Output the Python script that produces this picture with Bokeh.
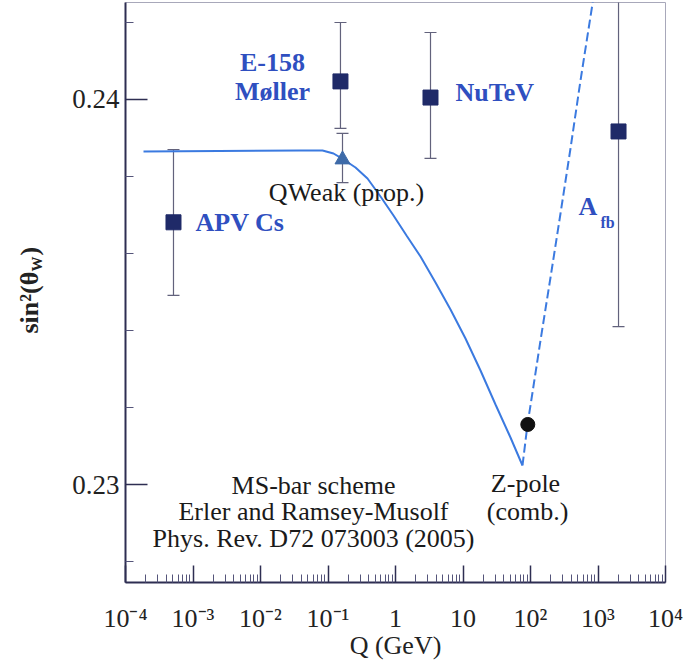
import math
from bokeh.plotting import figure
from bokeh.layouts import row
from bokeh.models import (FixedTicker, ColumnDataSource, Whisker, TeeHead, Range1d)
from bokeh.core.properties import value
from bokeh.embed import file_html
from bokeh.resources import INLINE

# ---------------- data ----------------
# running sin^2(theta_W) in MS-bar scheme (solid, low-Q branch)
curve_q = [1.848e-4, 0.03914, 0.08289, 0.12066, 0.16965, 0.2555, 0.3847, 0.5995,
           0.9341, 1.4555, 2.3462, 3.913, 6.528, 10.889, 18.166, 30.30, 50.53, 76.1]
curve_s = [0.238649, 0.238675, 0.238675, 0.238597, 0.238442, 0.238234, 0.237948,
           0.237481, 0.236987, 0.236468, 0.235922, 0.235247, 0.234545, 0.233792,
           0.232961, 0.232078, 0.231221, 0.230494]
# high-Q branch (dashed)
high_q = [76.1, 90.27, 107.05, 140.6, 197.9, 278.3, 391.3, 550.5, 774.3, 950.2]
high_s = [0.230494, 0.231558, 0.232390, 0.233740, 0.235377, 0.237039, 0.238727,
          0.240494, 0.242156, 0.243143]

# measurements (squares)
meas_name = ["APV Cs", "E-158 Møller", "NuTeV", "A_fb"]
meas_q = [5.14e-4, 0.153, 3.30, 2014.0]
meas_s = [0.23681, 0.24047, 0.24005, 0.23917]
meas_lo = [0.23491, 0.23925, 0.23847, 0.23410]
meas_hi = [0.23870, 0.24200, 0.24174, 0.24424]

# QWeak (proposed)
qweak_q = [0.164]
qweak_s = [0.23844]
qweak_lo = [0.23784]
qweak_hi = [0.23912]

# Z-pole combined
zpole_q = [91.19]
zpole_s = [0.23156]

x_tick_vals = [1e-4, 1e-3, 1e-2, 1e-1, 1.0, 10.0, 100.0, 1000.0, 10000.0]
x_tick_labels = ["10⁻⁴", "10⁻³", "10⁻²", "10⁻¹", "1", "10", "10²", "10³", "10⁴"]
y_tick_vals = [0.23, 0.24]
y_tick_labels = ["0.23", "0.24"]
y_minor_vals = [0.228, 0.232, 0.234, 0.236, 0.238, 0.242]

# ---------------- styling ----------------
SERIF = "Liberation Serif"
BLUE_TXT = "#2f4fc0"
CURVE = "#3b7ae0"
AXIS = "#2e2e52"
ERR = "#62627c"
LEFT_W = 60   # width of the strip that carries the y-axis title

p = figure(width=696 - LEFT_W, height=664, x_axis_type="log",
           x_range=Range1d(1e-4, 1e4), y_range=Range1d(0.227455, 0.242519),
           output_backend="svg", toolbar_location=None,
           min_border_left=125 - LEFT_W, min_border_right=31, min_border_top=2,
           min_border_bottom=82)
p.xgrid.visible = False
p.ygrid.visible = False
p.outline_line_color = "#a8a8ba"
p.outline_line_width = 1
p.background_fill_color = "white"
p.border_fill_color = "white"

xminor = [m * 10.0 ** k for k in range(-4, 4) for m in range(2, 10)]
p.xaxis.ticker = FixedTicker(ticks=x_tick_vals, minor_ticks=xminor)
p.xaxis.major_label_overrides = dict(zip(x_tick_vals, x_tick_labels))
p.yaxis.ticker = FixedTicker(ticks=y_tick_vals, minor_ticks=y_minor_vals)
p.yaxis.major_label_overrides = dict(zip(y_tick_vals, y_tick_labels))

for ax in (p.xaxis[0], p.yaxis[0]):
    ax.axis_line_color = AXIS
    ax.axis_line_width = 2
    ax.major_tick_out = 0
    ax.minor_tick_out = 0
    ax.minor_tick_in = 8
    ax.major_tick_line_color = AXIS
    ax.minor_tick_line_color = "#55557a"
    ax.major_tick_line_width = 1.5
    ax.major_label_text_font = SERIF
    ax.major_label_text_color = "#222222"
p.xaxis.major_label_text_font_size = "26px"
p.yaxis.major_label_text_font_size = "27px"
p.xaxis.major_tick_in = 17
p.yaxis.major_tick_in = 22
p.xaxis.major_label_standoff = 21
p.yaxis.major_label_standoff = 6
p.xaxis.axis_label = "Q (GeV)"
p.xaxis.axis_label_text_font = SERIF
p.xaxis.axis_label_text_font_style = "normal"
p.xaxis.axis_label_text_font_size = "26px"
p.xaxis.axis_label_text_color = "#222222"
p.xaxis.axis_label_standoff = -5

# curve
p.line(curve_q, curve_s, line_color=CURVE, line_width=2)
p.line(high_q, high_s, line_color=CURVE, line_width=2, line_dash="9 4")

# error bars
msrc = ColumnDataSource(dict(q=meas_q, s=meas_s, lo=meas_lo, hi=meas_hi))
qsrc = ColumnDataSource(dict(q=qweak_q, s=qweak_s, lo=qweak_lo, hi=qweak_hi))
for src in (msrc, qsrc):
    w = Whisker(source=src, base="q", lower="lo", upper="hi", dimension="height",
                line_color=ERR, line_width=1.2,
                upper_head=TeeHead(size=12, line_color=ERR, line_width=1.2),
                lower_head=TeeHead(size=12, line_color=ERR, line_width=1.2))
    p.add_layout(w)

p.scatter("q", "s", source=msrc, marker="square", size=15, color="#1f2a68")
p.scatter("q", "s", source=qsrc, marker="triangle", size=15, color="#3d6aa8")
p.scatter(zpole_q, zpole_s, marker="circle", size=14, color="#111111")

# ---------------- texts ----------------
blue = ColumnDataSource(dict(
    x=[0.01507, 0.01507, 7.74, 1.09e-3, 514.0],
    y=[0.24096, 0.24021, 0.24018, 0.23681, 0.23722],
    t=["E-158", "Møller", "NuTeV", "APV Cs", "A"],
    a=["center", "center", "left", "left", "left"]))
p.text("x", "y", text="t", source=blue, text_align="a", text_baseline="middle",
       text_font=value(SERIF), text_font_style="bold", text_font_size="26px",
       text_color=BLUE_TXT)
p.text([1089.0], [0.23681], text=["fb"], text_align="left", text_baseline="middle",
       text_font=value(SERIF), text_font_style="bold", text_font_size="16px",
       text_color=BLUE_TXT)

black = ColumnDataSource(dict(
    x=[0.188, 84.3, 90.3, 0.061, 0.061, 0.061],
    y=[0.23758, 0.230026, 0.229299, 0.229974, 0.229299, 0.228597],
    t=["QWeak (prop.)", "Z-pole", "(comb.)", "MS-bar scheme",
       "Erler and Ramsey-Musolf", "Phys. Rev. D72 073003 (2005)"]))
p.text("x", "y", text="t", source=black, text_align="center", text_baseline="middle",
       text_font=value(SERIF), text_font_size="26px", text_color="#1a1a1a")

# ---------------- y-axis title strip: sin^2(theta_W) ----------------
# the strip's frame is aligned with the main frame (canvas rows 2..582),
# so its y range is expressed as (664 - canvas row)
t = figure(width=LEFT_W, height=664, x_range=Range1d(0, LEFT_W), y_range=Range1d(82, 662),
           output_backend="svg", toolbar_location=None,
           x_axis_location=None, y_axis_location=None,
           min_border_left=0, min_border_right=0, min_border_top=2, min_border_bottom=82)
t.xgrid.visible = False
t.ygrid.visible = False
t.outline_line_color = None
t.background_fill_color = "white"
t.border_fill_color = "white"
ykw = dict(angle=math.pi / 2, text_font=value(SERIF), text_font_style="bold",
           text_color="#222222", text_align="left", text_baseline="middle")
t.text([29], [331], text=["sin²(θ"], text_font_size="26px", **ykw)
t.text([36], [393], text=["W"], text_font_size="15px", **ykw)
t.text([29], [409], text=[")"], text_font_size="26px", **ykw)

layout = row(t, p)
open("out.html", "w").write(file_html(layout, INLINE))
